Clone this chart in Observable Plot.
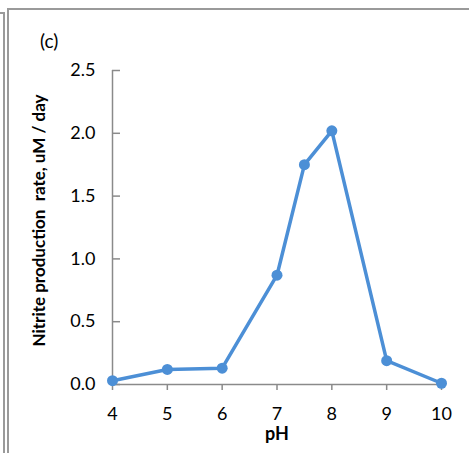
<!DOCTYPE html>
<html>
<head>
<meta charset="utf-8">
<script src="https://cdn.jsdelivr.net/npm/d3@7"></script>
<script src="https://cdn.jsdelivr.net/npm/@observablehq/plot@0.6"></script>
<style>
  body { margin: 0; background: #fff; }
  #wrap { position: relative; width: 469px; height: 453px; overflow: hidden; font-family: Lato, "Open Sans", sans-serif; }
  .ln { position: absolute; background: #9a9a9a; }
  #panel { position: absolute; left: 40px; top: 29px; font-size: 19px; color: #000; }
  .ylab text { white-space: pre; }
</style>
</head>
<body>
<div id="wrap">
  <div id="chart"></div>
  <div class="ln" style="left:3px; top:12px; width:2px; height:441px;"></div>
  <div class="ln" style="left:0px; top:12px; width:5px; height:2px;"></div>
  <div class="ln" style="left:7px; top:8px; width:2px; height:445px;"></div>
  <div class="ln" style="left:7px; top:8px; width:462px; height:2px;"></div>
  <div id="panel">(c)</div>
</div>
<script>
const pH = [4, 5, 6, 7, 7.5, 8, 9, 10];
const rate = [0.03, 0.12, 0.13, 0.87, 1.75, 2.02, 0.19, 0.01];
const xTicks = [4, 5, 6, 7, 8, 9, 10];
const yTicks = [0, 0.5, 1.0, 1.5, 2.0, 2.5];
const xLabel = "pH";
const yLabel = "Nitrite production  rate, uM / day";

const data = pH.map((p, i) => ({pH: p, rate: rate[i]}));
const blue = "#4c8fd6";
const axisColor = "#8a8a8a";

const chart = Plot.plot({
  width: 469,
  height: 453,
  marginLeft: 112,
  marginRight: 28,
  marginTop: 70,
  marginBottom: 69,
  style: {fontFamily: "Lato, 'Open Sans', sans-serif", fontSize: "18px", color: "#000", background: "transparent"},
  x: {domain: [4, 10]},
  y: {domain: [0, 2.5]},
  marks: [
    Plot.ruleX([4], {stroke: axisColor, strokeWidth: 1.5}),
    Plot.ruleY([0], {stroke: axisColor, strokeWidth: 1.5}),
    Plot.axisX(xTicks, {anchor: "bottom", tickSize: 6, tickPadding: 17, stroke: axisColor, strokeWidth: 1.5, label: null, fill: "#000"}),
    Plot.axisY(yTicks, {anchor: "left", tickSize: -8, tickPadding: 25, stroke: axisColor, strokeWidth: 1.5, label: null, fill: "#000", tickFormat: d => d.toFixed(1)}),
    Plot.line(data, {x: "pH", y: "rate", stroke: blue, strokeWidth: 3.5}),
    Plot.dot(data, {x: "pH", y: "rate", r: 5.5, fill: blue, stroke: "none"}),
    Plot.text([xLabel], {frameAnchor: "bottom", dy: 43, lineAnchor: "top", textAnchor: "middle", fontWeight: "bold", fontSize: 18, fill: "#000"}),
    Plot.text([yLabel], {frameAnchor: "left", dx: -73, dy: -7, rotate: -90, textAnchor: "middle", fontWeight: "bold", fontSize: 17, fill: "#000", className: "ylab"})
  ]
});
document.getElementById("chart").appendChild(chart);
</script>
</body>
</html>
